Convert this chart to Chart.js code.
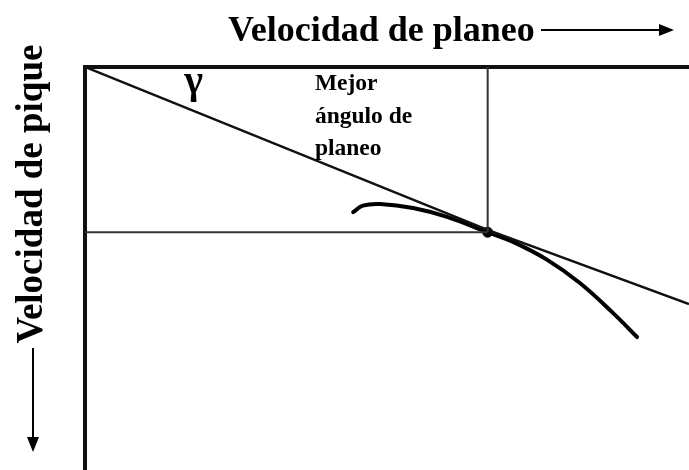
<!DOCTYPE html>
<html>
<head>
<meta charset="utf-8">
<script src="https://cdn.jsdelivr.net/npm/chart.js@4.4.1/dist/chart.umd.min.js"></script>
<style>
  html, body { margin: 0; padding: 0; background: #fff; }
  canvas { display: block; }
</style>
</head>
<body>
<canvas id="polar" width="689" height="470"></canvas>
<script>
// curva polar: velocidad de planeo (km/h) contra velocidad de pique (m/s)
const polarSpeed = [66.6, 69.0, 73.3, 81.5, 89.9, 100, 106.3, 114.7, 122.9, 131.1, 137.1];
const polarSink = [1.80, 1.72, 1.70, 1.75, 1.86, 2.05, 2.17, 2.39, 2.68, 3.05, 3.35];

// tangente trazada desde el origen
const tangentSpeed = [0, 100, 150];
const tangentSink = [0, 2.02, 2.94];

// punto de mejor ángulo de planeo
const bestSpeed = 100;
const bestSink = 2.05;

const xMax = 150;
const yMax = 5;

const titleText = "Velocidad de planeo";
const yText = "Velocidad de pique";
const angleText = "γ";
const noteLines = ["Mejor", "ángulo de", "planeo"];

function pts(xs, ys) {
    return xs.map((v, i) => ({ x: v, y: ys[i] }));
}

function arrow(ctx, x1, y1, x2, y2) {
    const a = Math.atan2(y2 - y1, x2 - x1);
    const head = 15, half = 6;
    ctx.lineWidth = 2;
    ctx.beginPath();
    ctx.moveTo(x1, y1);
    ctx.lineTo(x2 - head * Math.cos(a), y2 - head * Math.sin(a));
    ctx.stroke();
    ctx.beginPath();
    ctx.moveTo(x2, y2);
    ctx.lineTo(x2 - head * Math.cos(a) - half * Math.sin(a), y2 - head * Math.sin(a) + half * Math.cos(a));
    ctx.lineTo(x2 - head * Math.cos(a) + half * Math.sin(a), y2 - head * Math.sin(a) - half * Math.cos(a));
    ctx.closePath();
    ctx.fill();
}

// textos y flechas de los ejes
const labelsPlugin = {
    id: "labelsPlugin",
    afterDraw(chart) {
        const ctx = chart.ctx;
        const xs = chart.scales.x, ys = chart.scales.y;
        ctx.save();
        ctx.fillStyle = "#000";
        ctx.strokeStyle = "#000";

        ctx.font = 'bold 36px "Liberation Serif"';
        ctx.textAlign = "left";
        ctx.textBaseline = "alphabetic";
        ctx.fillText(titleText, 228, 41);
        arrow(ctx, 541, 30, 674, 30);

        ctx.save();
        ctx.translate(42, 194);
        ctx.rotate(-Math.PI / 2);
        ctx.font = 'bold 37px "Liberation Serif"';
        ctx.textAlign = "center";
        ctx.fillText(yText, 0, 0);
        ctx.restore();
        arrow(ctx, 33, 348, 33, 452);

        ctx.font = 'bold 40px "Liberation Serif"';
        ctx.textAlign = "center";
        ctx.fillText(angleText, xs.getPixelForValue(27), ys.getPixelForValue(0.32));

        ctx.font = 'bold 23.5px "Liberation Serif"';
        ctx.textAlign = "left";
        const left = xs.getPixelForValue(57.1);
        noteLines.forEach((t, i) => ctx.fillText(t, left, 90 + i * 32.5));
        ctx.restore();
    }
};

new Chart(document.getElementById("polar"), {
    type: "scatter",
    data: {
        datasets: [
            {
                // línea horizontal hasta el punto
                data: pts([0, bestSpeed], [bestSink, bestSink]),
                showLine: true,
                borderColor: "#333",
                borderWidth: 2,
                pointRadius: 0
            },
            {
                // línea vertical hasta el punto
                data: pts([bestSpeed, bestSpeed], [0, bestSink]),
                showLine: true,
                borderColor: "#333",
                borderWidth: 2,
                pointRadius: 0
            },
            {
                data: pts(tangentSpeed, tangentSink),
                showLine: true,
                borderColor: "#111",
                borderWidth: 2.5,
                pointRadius: 0
            },
            {
                data: pts(polarSpeed, polarSink),
                showLine: true,
                borderColor: "#000",
                borderWidth: 4,
                borderCapStyle: "round",
                tension: .4,
                pointRadius: 0
            },
            {
                data: [{ x: bestSpeed, y: bestSink }],
                backgroundColor: "#000",
                borderColor: "#000",
                pointRadius: 5
            }
        ]
    },
    options: {
        responsive: false,
        animation: false,
        layout: {
            autoPadding: false,
            padding: { left: 85, top: 67, right: 0, bottom: 0 }
        },
        scales: {
            x: {
                type: "linear",
                position: "top",
                min: 0,
                max: xMax,
                grid: { display: false, drawTicks: false },
                ticks: { display: false },
                border: { display: true, color: "#111", width: 4 }
            },
            y: {
                type: "linear",
                position: "left",
                reverse: true,
                min: 0,
                max: yMax,
                grid: { display: false, drawTicks: false },
                ticks: { display: false },
                border: { display: true, color: "#111", width: 4 }
            }
        },
        plugins: {
            legend: { display: false },
            tooltip: { enabled: false }
        }
    },
    plugins: [labelsPlugin]
});
</script>
</body>
</html>
